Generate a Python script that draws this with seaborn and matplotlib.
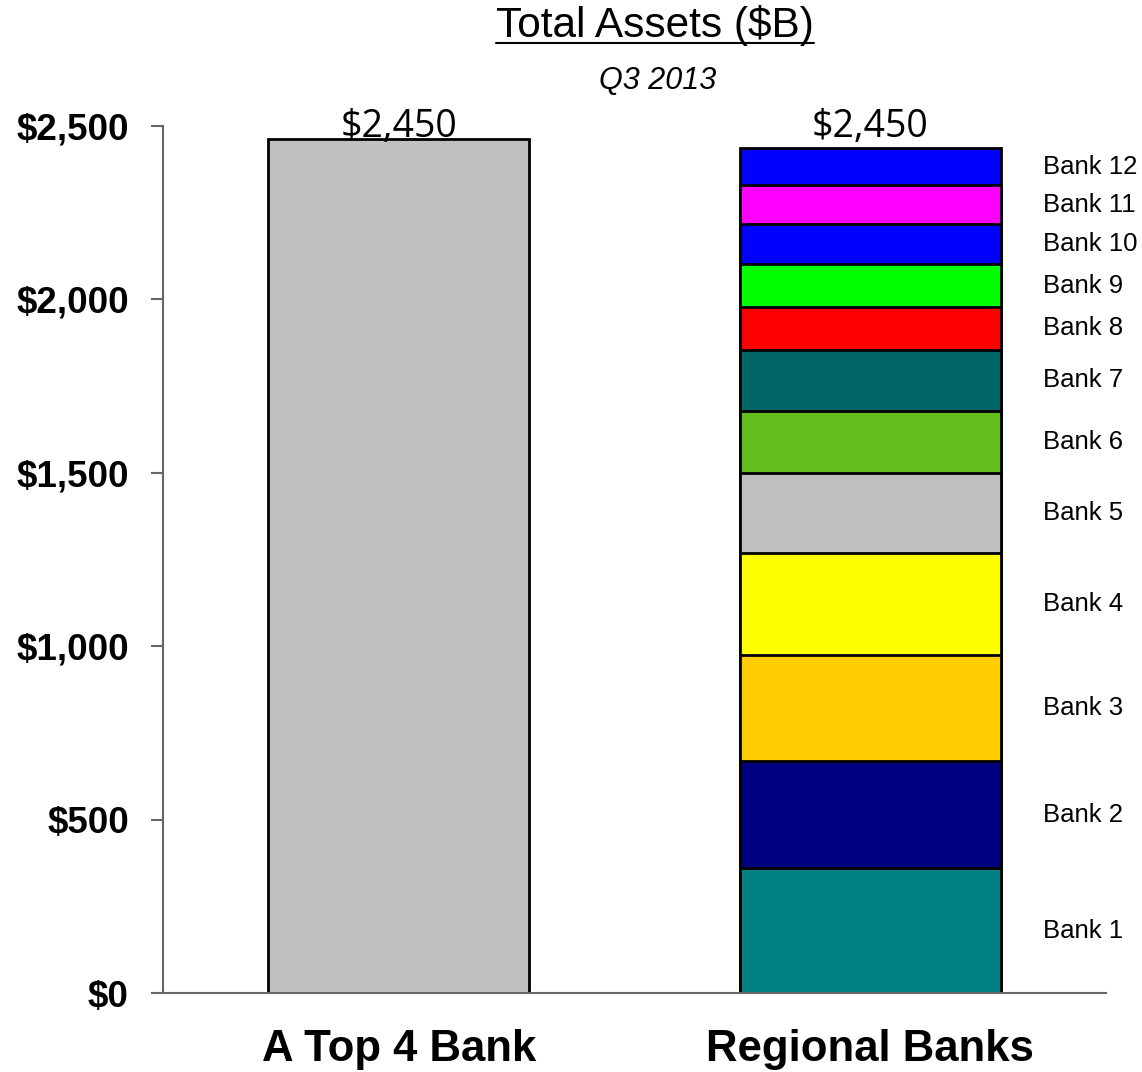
import numpy as np
import pandas as pd
import matplotlib
matplotlib.use("Agg")
import matplotlib.pyplot as plt
import seaborn as sns
from matplotlib.lines import Line2D
from matplotlib.ticker import FuncFormatter

# ---------------- data ----------------
categories = ["A Top 4 Bank", "Regional Banks"]
top4_value = 2460
bank_names = ["Bank 1", "Bank 2", "Bank 3", "Bank 4", "Bank 5", "Bank 6",
              "Bank 7", "Bank 8", "Bank 9", "Bank 10", "Bank 11", "Bank 12"]
bank_values = [360, 308, 308, 293, 229, 180, 175, 125, 122, 115, 113, 107]
bank_colors = ["#008080", "#000080", "#FFCC00", "#FFFF00", "#C0C0C0", "#63BE1B",
               "#006666", "#FF0000", "#00FF00", "#0000FF", "#FF00FF", "#0000FF"]
top4_color = "#C0C0C0"
total_labels = [2450, 2450]
y_ticks = [0, 500, 1000, 1500, 2000, 2500]
title = "Total Assets ($B)"
subtitle = "Q3 2013"

# ---------------- style ----------------
sns.set_theme(style="white")
plt.rcParams["font.family"] = ["Liberation Sans", "DejaVu Sans"]

cum = np.cumsum(bank_values)
rows = [{"category": categories[0], "segment": "Top 4", "height": top4_value}]
for name, c in zip(bank_names, cum):
    rows.append({"category": categories[1], "segment": name, "height": c})
df = pd.DataFrame(rows)
hue_order = ["Top 4"] + bank_names[::-1]
palette = {"Top 4": top4_color}
palette.update(dict(zip(bank_names, bank_colors)))

fig = plt.figure(figsize=(11.42, 10.72), dpi=100)
ax = fig.add_axes([0.1427, 0.0734, 0.8258, 0.8095])

sns.barplot(data=df, x="category", y="height", hue="segment",
            hue_order=hue_order, order=categories, palette=palette,
            dodge=False, width=0.554, edgecolor="black", linewidth=2,
            saturation=1, errorbar=None, legend=False, ax=ax)

ax.set_xlim(-0.5, 1.5)
ax.set_ylim(0, 2500)
ax.set_yticks(y_ticks)
ax.yaxis.set_major_formatter(FuncFormatter(lambda v, p: f"${v:,.0f}"))
ax.set_xlabel("")
ax.set_ylabel("")

for s in ["top", "right"]:
    ax.spines[s].set_visible(False)
for s in ["left", "bottom"]:
    ax.spines[s].set_color("#666666")
    ax.spines[s].set_linewidth(1.5)

ax.tick_params(axis="y", left=True, length=8.5, width=1.5, color="#666666",
               pad=16, labelsize=26.5, labelcolor="black")
ax.tick_params(axis="x", bottom=False, length=0, pad=26, labelsize=31.5,
               labelcolor="black")
for lab in ax.get_yticklabels() + ax.get_xticklabels():
    lab.set_fontweight("bold")

# total labels
for i, v in enumerate(total_labels):
    ax.annotate(f"${v:,.0f}", xy=(i, v), xytext=(0, 4),
                textcoords="offset points", ha="center", va="baseline",
                fontsize=27, family=["Open Sans", "DejaVu Sans"], color="black")

# bank labels
for name, v, c in zip(bank_names, bank_values, cum):
    ax.text(1.366, c - v / 2, name, ha="left", va="center", fontsize=18.5,
            color="black")

# title + subtitle
t = fig.text(0.5735, 0.9652, title, ha="center", va="baseline", fontsize=30.5,
             color="black")
fig.text(0.5755, 0.9167, subtitle, ha="center", va="baseline", fontsize=22,
         style="italic", color="black")

fig.canvas.draw()
bb = t.get_window_extent(renderer=fig.canvas.get_renderer())
inv = fig.transFigure.inverted()
(x0, _), (x1, _) = inv.transform([(bb.x0, 0), (bb.x1, 0)])
uy = 1 - 43 / 1072
fig.add_artist(Line2D([x0, x1], [uy, uy], transform=fig.transFigure,
                      color="black", linewidth=1.5))

fig.savefig("out.png", dpi=100)
